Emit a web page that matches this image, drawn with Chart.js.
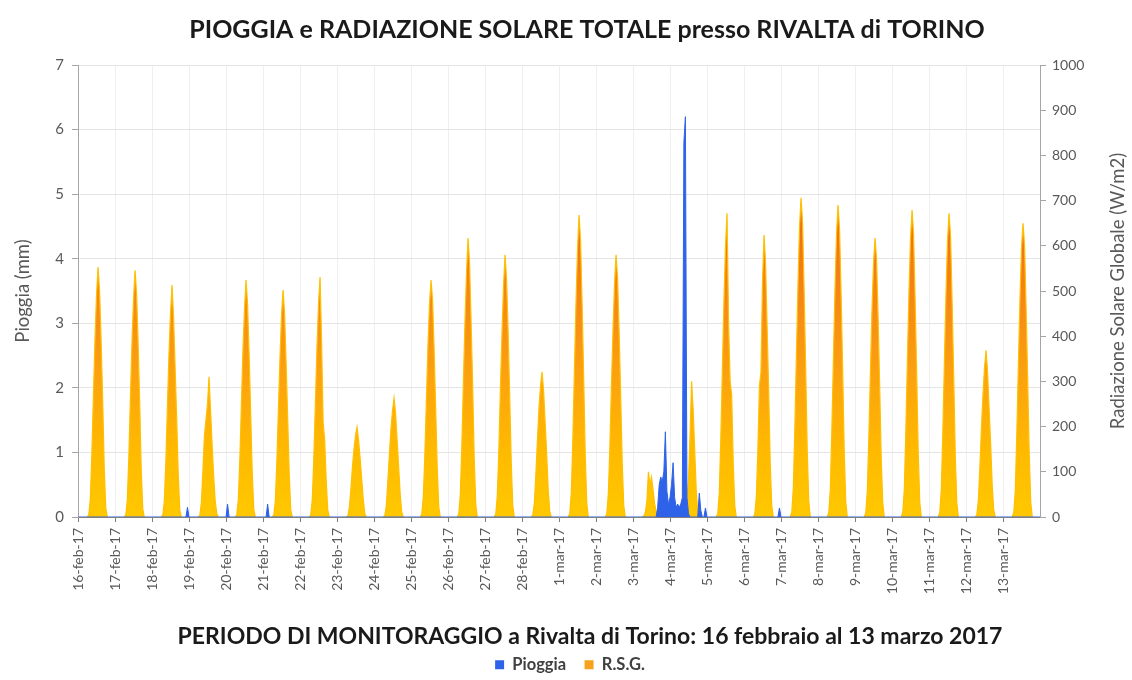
<!DOCTYPE html>
<html>
<head>
<meta charset="utf-8">
<script src="https://cdn.jsdelivr.net/npm/chart.js@4.4.1/dist/chart.umd.min.js"></script>
<style>
  html, body { margin: 0; padding: 0; background: #ffffff; }
  #wrap { width: 1132px; height: 680px; }
</style>
</head>
<body>
<div id="wrap"><canvas id="c" width="1132" height="680"></canvas></div>
<script>
// ---- DATA ----
const chartTitle = 'PIOGGIA e RADIAZIONE SOLARE TOTALE presso RIVALTA di TORINO';
const xTitle = 'PERIODO DI MONITORAGGIO a Rivalta di Torino: 16 febbraio al 13 marzo 2017';
const leftTitle = 'Pioggia (mm)';
const rightTitle = 'Radiazione Solare Globale (W/m2)';
const seriesNames = ['Pioggia', 'R.S.G.'];

const dayLabels = ['16-feb-17','17-feb-17','18-feb-17','19-feb-17','20-feb-17','21-feb-17','22-feb-17',
  '23-feb-17','24-feb-17','25-feb-17','26-feb-17','27-feb-17','28-feb-17','1-mar-17','2-mar-17',
  '3-mar-17','4-mar-17','5-mar-17','6-mar-17','7-mar-17','8-mar-17','9-mar-17','10-mar-17',
  '11-mar-17','12-mar-17','13-mar-17'];

// hours of the day for the hourly solar radiation readings (W/m2)
const rsgHoursOfDay = [6, 7, 8, 9, 10, 11, 12, 13, 14, 15, 16, 17, 18, 19];
const rsgByDay = [
  [0, 5, 40, 140, 270, 390, 490, 553, 500, 390, 260, 110, 20, 0],   // 16-feb
  [0, 5, 38, 135, 265, 385, 480, 546, 495, 385, 255, 105, 18, 0],   // 17-feb
  [0, 4, 35, 125, 245, 360, 450, 513, 440, 330, 220, 95, 16, 0],    // 18-feb
  [0, 3, 30, 100, 180, 215, 250, 310, 235, 160, 90, 35, 8, 0],      // 19-feb
  [0, 5, 38, 130, 250, 370, 460, 524, 470, 360, 230, 100, 18, 0],   // 20-feb
  [0, 4, 35, 125, 240, 350, 445, 502, 450, 340, 220, 95, 16, 0],    // 21-feb
  [0, 5, 40, 135, 255, 375, 470, 531, 390, 210, 170, 80, 15, 0],    // 22-feb
  [0, 2, 20, 60, 110, 150, 180, 199, 170, 130, 85, 40, 8, 0],       // 23-feb
  [0, 3, 25, 80, 140, 195, 235, 263, 230, 170, 110, 50, 10, 0],     // 24-feb
  [0, 6, 45, 140, 260, 380, 470, 524, 480, 370, 240, 110, 22, 0],   // 25-feb
  [0, 7, 50, 160, 300, 430, 540, 617, 560, 430, 290, 130, 28, 0],   // 26-feb
  [0, 7, 48, 150, 285, 405, 510, 580, 525, 410, 270, 125, 25, 0],   // 27-feb
  [0, 4, 30, 95, 170, 240, 290, 321, 280, 210, 140, 60, 12, 0],     // 28-feb
  [0, 8, 55, 175, 325, 470, 590, 668, 610, 470, 310, 140, 30, 0],   // 1-mar
  [0, 7, 50, 155, 290, 410, 515, 580, 530, 410, 270, 120, 25, 0],   // 2-mar
  [0, 2, 10, 35, 100, 70, 88, 60, 30, 12, 4, 0, 0, 0],              // 3-mar
  [0, 0, 5, 15, 25, 40, 80, 180, 300, 240, 150, 60, 10, 0],         // 4-mar
  [0, 8, 55, 180, 330, 480, 600, 672, 430, 300, 270, 120, 25, 0],   // 5-mar
  [0, 6, 45, 150, 290, 320, 520, 624, 560, 420, 280, 120, 25, 0],   // 6-mar
  [0, 10, 65, 200, 360, 510, 640, 706, 650, 500, 330, 150, 35, 0],  // 7-mar
  [0, 10, 62, 195, 350, 500, 625, 690, 635, 490, 325, 148, 33, 0],  // 8-mar
  [0, 9, 58, 180, 320, 455, 560, 617, 570, 440, 290, 130, 30, 0],   // 9-mar
  [0, 10, 62, 195, 350, 495, 615, 679, 625, 480, 320, 145, 33, 0],  // 10-mar
  [0, 10, 62, 192, 345, 490, 610, 672, 620, 475, 315, 143, 33, 0],  // 11-mar
  [0, 5, 35, 110, 195, 270, 330, 369, 320, 240, 160, 70, 15, 0],    // 12-mar
  [0, 10, 60, 190, 340, 480, 595, 650, 600, 460, 305, 140, 32, 0]   // 13-mar
];

// rain: hours counted from 16-feb 00:00, values in mm
const rainHour = [0, 70, 71, 72, 96, 97, 98, 122, 123, 124,
  375, 376, 377, 378, 379, 380, 381, 382, 383, 384, 385, 386, 387, 388, 389, 390, 391, 392, 393, 394, 395, 396, 397,
  402, 403, 404, 405, 406, 407, 408, 454, 455, 456, 624];
const rainMm = [0, 0, 0.15, 0, 0, 0.2, 0, 0, 0.2, 0,
  0, 0.15, 0.5, 0.62, 0.55, 0.7, 1.32, 0.4, 0.2, 0.3, 0.5, 0.84, 0.3, 0.15, 0.2, 0.15, 0.2, 0.3, 5.8, 6.2, 0.3, 0.05, 0,
  0, 0.37, 0.1, 0, 0, 0.14, 0, 0, 0.14, 0, 0];

const leftMax = 7, rightMax = 1000;

// ---- BUILD ----
const hoursPerDay = 24;
const rsgPoints = rsgByDay.flatMap((vals, d) => vals.map((v, i) => ({ x: d * hoursPerDay + rsgHoursOfDay[i], y: v })));
const rainPoints = rainHour.map((h, i) => ({ x: h, y: rainMm[i] }));

const FONT = 'Lato, "Open Sans", sans-serif';
const blue = '#2E62E8';
const legendColors = [blue, '#F7A21B'];

function rsgGradient(ctx) {
  const chart = ctx.chart;
  const area = chart.chartArea;
  if (!area || !chart.scales.y1) return '#FFC000';
  const s = chart.scales.y1;
  const g = chart.ctx.createLinearGradient(0, s.getPixelForValue(0), 0, s.getPixelForValue(720));
  g.addColorStop(0, '#FFC800');
  g.addColorStop(0.2, '#FFBA00');
  g.addColorStop(0.45, '#FBA010');
  g.addColorStop(0.75, '#F47E18');
  g.addColorStop(1, '#EC6414');
  return g;
}

const textPlugin = {
  id: 'extraTexts',
  afterDraw(chart) {
    const c = chart.ctx;
    const s = chart.scales.y1;
    c.save();
    c.textAlign = 'center';
    c.textBaseline = 'middle';
    // main title
    c.font = 'bold 25px ' + FONT;
    c.fillStyle = '#1a1a1a';
    c.fillText(chartTitle, 587, 30);
    // x-axis title
    c.font = 'bold 23px ' + FONT;
    c.fillText(xTitle, 590, 637);
    // right axis title
    c.translate(1118, (s.top + s.bottom) / 2);
    c.rotate(-Math.PI / 2);
    c.font = '18.5px ' + FONT;
    c.fillStyle = '#595959';
    c.fillText(rightTitle, 0, 0);
    c.restore();
  }
};

new Chart(document.getElementById('c'), {
  type: 'line',
  data: {
    datasets: [
      {
        label: seriesNames[0],
        data: rainPoints,
        yAxisID: 'y',
        borderColor: blue,
        backgroundColor: blue,
        borderWidth: 1,
        fill: 'origin',
        pointRadius: 0,
        tension: 0
      },
      {
        label: seriesNames[1],
        data: rsgPoints,
        yAxisID: 'y1',
        borderColor: '#FFC000',
        borderWidth: 1.2,
        backgroundColor: rsgGradient,
        fill: 'origin',
        pointRadius: 0,
        tension: 0,
        segment: {
          borderColor: (sc) => (sc.p0.parsed.y === 0 && sc.p1.parsed.y === 0) ? 'rgba(0,0,0,0)' : undefined
        }
      }
    ]
  },
  options: {
    responsive: false,
    animation: false,
    devicePixelRatio: 1,
    layout: { padding: { left: 8, right: 0, top: 65, bottom: -3 } },
    plugins: {
      title: { display: false },
      legend: {
        position: 'bottom',
        labels: {
          boxWidth: 9,
          boxHeight: 9,
          padding: 4,
          color: '#404040',
          font: { family: FONT, size: 16.5, weight: 'bold' },
          generateLabels(chart) {
            const items = Chart.defaults.plugins.legend.labels.generateLabels(chart);
            items.forEach((it, i) => {
              it.fillStyle = legendColors[i]; it.strokeStyle = legendColors[i]; it.lineWidth = 0;
              if (i === 0) it.text = it.text + '\u2003\u2009';
            });
            return items;
          }
        }
      },
      tooltip: { enabled: false }
    },
    scales: {
      x: {
        type: 'linear',
        min: 0,
        max: dayLabels.length * hoursPerDay,
        afterBuildTicks(axis) { axis.ticks = dayLabels.map((_, i) => ({ value: i * hoursPerDay })); },
        afterFit(scale) { scale.height = 135.5; },
        ticks: {
          autoSkip: false,
          minRotation: 90,
          maxRotation: 90,
          padding: 6,
          color: '#595959',
          font: { family: FONT, size: 14 },
          callback: (v) => dayLabels[Math.round(v / hoursPerDay)] ?? ''
        },
        grid: { color: '#efefef', tickColor: '#7f7f7f', tickLength: 5, drawOnChartArea: true },
        border: { color: '#7f7f7f', width: 1 },
        title: { display: false }
      },
      y: {
        position: 'left',
        min: 0,
        max: leftMax,
        afterFit(scale) { scale.width = 70; },
        ticks: { stepSize: 1, color: '#595959', font: { family: FONT, size: 15 }, padding: 8 },
        grid: { color: '#e4e4e4', tickColor: '#a6a6a6', tickLength: 6 },
        border: { color: '#a6a6a6' },
        title: {
          display: true,
          text: leftTitle,
          color: '#595959',
          font: { family: FONT, size: 18.5 },
          padding: { top: 4, bottom: 4 }
        }
      },
      y1: {
        position: 'right',
        min: 0,
        max: rightMax,
        afterFit(scale) { scale.width = 92; },
        ticks: { stepSize: 100, color: '#595959', font: { family: FONT, size: 14 }, padding: 6,
          callback: (v) => String(v) },
        grid: { drawOnChartArea: false, tickColor: '#a6a6a6', tickLength: 6 },
        border: { color: '#a6a6a6' }
      }
    }
  },
  plugins: [textPlugin]
});
</script>
</body>
</html>
